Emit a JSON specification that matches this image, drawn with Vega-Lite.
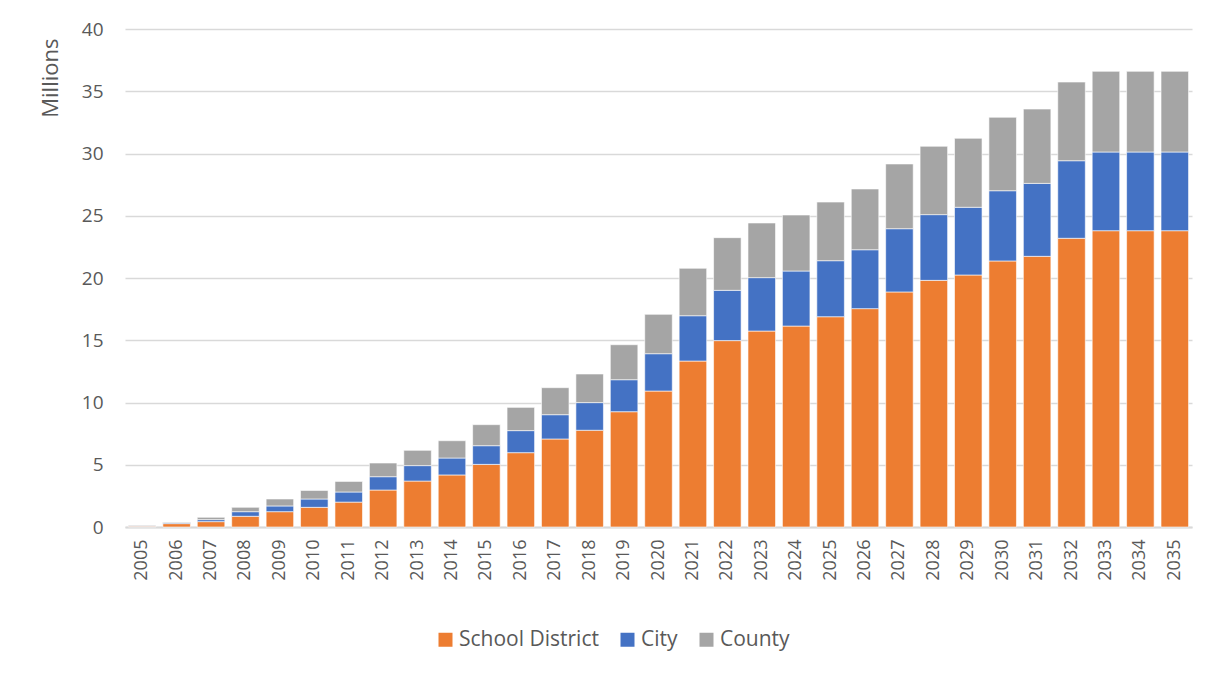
{
  "$schema": "https://vega.github.io/schema/vega-lite/v6.json",
  "width": 1067,
  "height": 498,
  "autosize": {"type": "none"},
  "padding": {"left": 125, "top": 29, "right": 15, "bottom": 148},
  "background": "white",
  "config": {"view": {"stroke": null}, "font": "Open Sans"},
  "data": {"values": [
    {"year": "2005", "School District": 0.07, "City": 0.03, "County": 0.05},
    {"year": "2006", "School District": 0.27, "City": 0.08, "County": 0.05},
    {"year": "2007", "School District": 0.43, "City": 0.16, "County": 0.19},
    {"year": "2008", "School District": 0.86, "City": 0.37, "County": 0.35},
    {"year": "2009", "School District": 1.23, "City": 0.46, "County": 0.56},
    {"year": "2010", "School District": 1.58, "City": 0.67, "County": 0.69},
    {"year": "2011", "School District": 2.0, "City": 0.81, "County": 0.85},
    {"year": "2012", "School District": 2.97, "City": 1.07, "County": 1.1},
    {"year": "2013", "School District": 3.69, "City": 1.24, "County": 1.23},
    {"year": "2014", "School District": 4.18, "City": 1.36, "County": 1.39},
    {"year": "2015", "School District": 5.03, "City": 1.5, "County": 1.69},
    {"year": "2016", "School District": 5.97, "City": 1.77, "County": 1.87},
    {"year": "2017", "School District": 7.07, "City": 1.95, "County": 2.17},
    {"year": "2018", "School District": 7.77, "City": 2.22, "County": 2.3},
    {"year": "2019", "School District": 9.26, "City": 2.57, "County": 2.81},
    {"year": "2020", "School District": 10.92, "City": 3.0, "County": 3.16},
    {"year": "2021", "School District": 13.33, "City": 3.64, "County": 3.81},
    {"year": "2022", "School District": 14.97, "City": 4.04, "County": 4.23},
    {"year": "2023", "School District": 15.74, "City": 4.29, "County": 4.39},
    {"year": "2024", "School District": 16.14, "City": 4.42, "County": 4.5},
    {"year": "2025", "School District": 16.89, "City": 4.5, "County": 4.71},
    {"year": "2026", "School District": 17.54, "City": 4.73, "County": 4.88},
    {"year": "2027", "School District": 18.88, "City": 5.08, "County": 5.2},
    {"year": "2028", "School District": 19.81, "City": 5.28, "County": 5.49},
    {"year": "2029", "School District": 20.24, "City": 5.44, "County": 5.54},
    {"year": "2030", "School District": 21.37, "City": 5.64, "County": 5.9},
    {"year": "2031", "School District": 21.74, "City": 5.86, "County": 5.97},
    {"year": "2032", "School District": 23.19, "City": 6.23, "County": 6.32},
    {"year": "2033", "School District": 23.8, "City": 6.32, "County": 6.48},
    {"year": "2034", "School District": 23.8, "City": 6.32, "County": 6.48},
    {"year": "2035", "School District": 23.8, "City": 6.32, "County": 6.48}
  ]},
  "transform": [
    {"fold": ["School District", "City", "County"], "as": ["type", "value"]},
    {"window": [{"op": "row_number", "as": "stackRank"}], "groupby": ["year"]}
  ],
  "mark": {"type": "bar", "stroke": "white", "strokeWidth": 0.6},
  "encoding": {
    "x": {
      "field": "year",
      "type": "ordinal",
      "scale": {"paddingInner": 0.2, "paddingOuter": 0.1},
      "axis": {
        "title": null,
        "labelAngle": -90,
        "labelFontSize": 18,
        "labelColor": "#595959",
        "labelPadding": 12,
        "ticks": false,
        "domain": true,
        "domainColor": "#D9D9D9",
        "domainWidth": 2,
        "grid": false
      }
    },
    "y": {
      "field": "value",
      "type": "quantitative",
      "stack": "zero",
      "scale": {"domain": [0, 40], "nice": false},
      "axis": {
        "values": [0, 5, 10, 15, 20, 25, 30, 35, 40],
        "grid": true,
        "gridColor": "#D9D9D9",
        "gridWidth": 1.5,
        "domain": false,
        "ticks": false,
        "labelPadding": 22,
        "labelFontSize": 19,
        "labelColor": "#595959",
        "title": "Millions",
        "titleFontSize": 22,
        "titleFontWeight": "normal",
        "titleColor": "#595959",
        "titleAnchor": "end",
        "titleBaseline": "bottom",
        "titleX": -63,
        "titleY": 9
      }
    },
    "order": {"field": "stackRank", "type": "quantitative", "sort": "ascending"},
    "color": {
      "field": "type",
      "type": "nominal",
      "sort": ["School District", "City", "County"],
      "scale": {"domain": ["School District", "City", "County"], "range": ["#ED7D31", "#4472C4", "#A5A5A5"]},
      "legend": {
        "title": null,
        "orient": "none",
        "direction": "horizontal",
        "legendX": 310,
        "legendY": 600,
        "padding": 0,
        "symbolType": "square",
        "symbolSize": 196,
        "symbolStrokeWidth": 0,
        "labelFontSize": 21,
        "labelColor": "#595959",
        "labelOffset": 3,
        "columnPadding": 18
      }
    }
  }
}
